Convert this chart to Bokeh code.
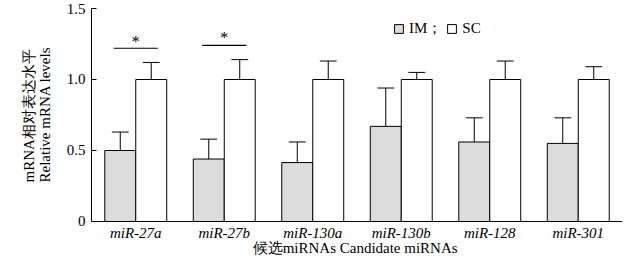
from bokeh.plotting import figure
from bokeh.models import (FactorRange, Range1d, Legend, LegendItem,
                          ColumnDataSource, FixedTicker, Label, Title)
from bokeh.transform import dodge
from bokeh.core.properties import value
from bokeh.embed import file_html
from bokeh.resources import INLINE

# ---- data ----
categories = ["miR-27a", "miR-27b", "miR-130a", "miR-130b", "miR-128", "miR-301"]
im_mean = [0.50, 0.44, 0.415, 0.67, 0.56, 0.55]
im_err_top = [0.63, 0.58, 0.56, 0.94, 0.73, 0.73]
sc_mean = [1.0, 1.0, 1.0, 1.0, 1.0, 1.0]
sc_err_top = [1.12, 1.14, 1.13, 1.05, 1.13, 1.09]
sig_cats = ["miR-27a", "miR-27b"]
sig_line_y = [1.22, 1.24]
sig_star_y = [1.205, 1.235]
sig_text = ["*", "*"]
y_ticks = [0, 0.5, 1.0, 1.5]
y_tick_labels = ["0", "0.5", "1.0", "1.5"]
x_title = "候选miRNAs  Candidate miRNAs"
y_title = "mRNA相对表达水平\nRelative mRNA levels"

FONT = "Liberation Serif"
BAR_W = 0.35
OFF = 0.175
CAP = 0.095
Y_MIN = -0.2465   # room below the axis for tick labels and the x title

p = figure(width=626, height=256,
           x_range=FactorRange(*categories, range_padding=0),
           y_range=Range1d(Y_MIN, 1.5),
           output_backend="svg", toolbar_location=None,
           min_border_left=91, min_border_right=4,
           min_border_top=8, min_border_bottom=0)
p.outline_line_color = None
p.xgrid.visible = False
p.ygrid.visible = False
p.background_fill_color = "white"
p.border_fill_color = "white"

src = ColumnDataSource(dict(cat=categories, im=im_mean, im_err=im_err_top,
                            sc=sc_mean, sc_err=sc_err_top))

im_r = p.vbar(x=dodge("cat", -OFF, range=p.x_range), top="im", bottom=0,
              width=BAR_W, source=src, fill_color="#dcdcdc",
              line_color="black", line_width=1)
sc_r = p.vbar(x=dodge("cat", OFF, range=p.x_range), top="sc", bottom=0,
              width=BAR_W, source=src, fill_color="white",
              line_color="black", line_width=1)

# error bars (upper only)
for off, base, top in ((-OFF, "im", "im_err"), (OFF, "sc", "sc_err")):
    p.segment(x0=dodge("cat", off, range=p.x_range), y0=base,
              x1=dodge("cat", off, range=p.x_range), y1=top,
              source=src, line_color="black", line_width=1)
    p.segment(x0=dodge("cat", off - CAP, range=p.x_range), y0=top,
              x1=dodge("cat", off + CAP, range=p.x_range), y1=top,
              source=src, line_color="black", line_width=1)

# significance marks
sig = ColumnDataSource(dict(cat=sig_cats, ly=sig_line_y, sy=sig_star_y, t=sig_text))
p.segment(x0=dodge("cat", -0.25, range=p.x_range), y0="ly",
          x1=dodge("cat", 0.25, range=p.x_range), y1="ly",
          source=sig, line_color="black", line_width=1.2)
p.text(x="cat", y="sy", text="t", source=sig, text_align="center",
       text_baseline="bottom", text_font=value(FONT), text_font_size="16px",
       text_color="black")

# y axis
yax = p.yaxis[0]
yax.ticker = FixedTicker(ticks=y_ticks)
yax.major_label_overrides = {t: l for t, l in zip(y_ticks, y_tick_labels)}
yax.bounds = (0, 1.5)
yax.major_tick_in = 5
yax.major_tick_out = 0
yax.minor_tick_line_color = None
yax.major_label_standoff = 6
yax.major_label_text_font = FONT
yax.major_label_text_font_size = "15px"
yax.major_label_text_color = "black"
yax.axis_line_color = "black"
yax.major_tick_line_color = "black"

# y title (two lines), placed beside the y axis and centred on its 0-1.5 span
p.add_layout(Title(text=y_title, align="left", offset=74,
                   vertical_align="middle", standoff=20,
                   text_font=FONT, text_font_size="15px",
                   text_font_style="normal", text_color="black"), "left")

# x axis at y = 0
xax = p.xaxis[0]
xax.fixed_location = 0
xax.major_tick_in = 0
xax.major_tick_out = 0
xax.minor_tick_line_color = None
xax.major_label_standoff = 4
xax.major_label_text_font = FONT
xax.major_label_text_font_size = "15px"
xax.major_label_text_font_style = "italic"
xax.major_label_text_color = "black"
xax.axis_line_color = "black"

# x title below the tick labels, centred on the category axis
p.add_layout(Label(x=3.0, y=-0.19, x_units="data", y_units="data",
                   text=x_title, text_align="center", text_baseline="middle",
                   text_font=FONT, text_font_size="15px", text_color="black"))

legend = Legend(items=[LegendItem(label="IM；", renderers=[im_r]),
                       LegendItem(label="SC", renderers=[sc_r])],
                orientation="horizontal", location=(302, 218),
                glyph_width=11, glyph_height=11, label_height=11,
                label_standoff=5, spacing=4, padding=0, margin=0,
                border_line_color=None, background_fill_alpha=0,
                label_text_font=FONT, label_text_font_size="15px",
                label_text_color="black")
p.add_layout(legend)

open("out.html", "w").write(file_html(p, INLINE))
